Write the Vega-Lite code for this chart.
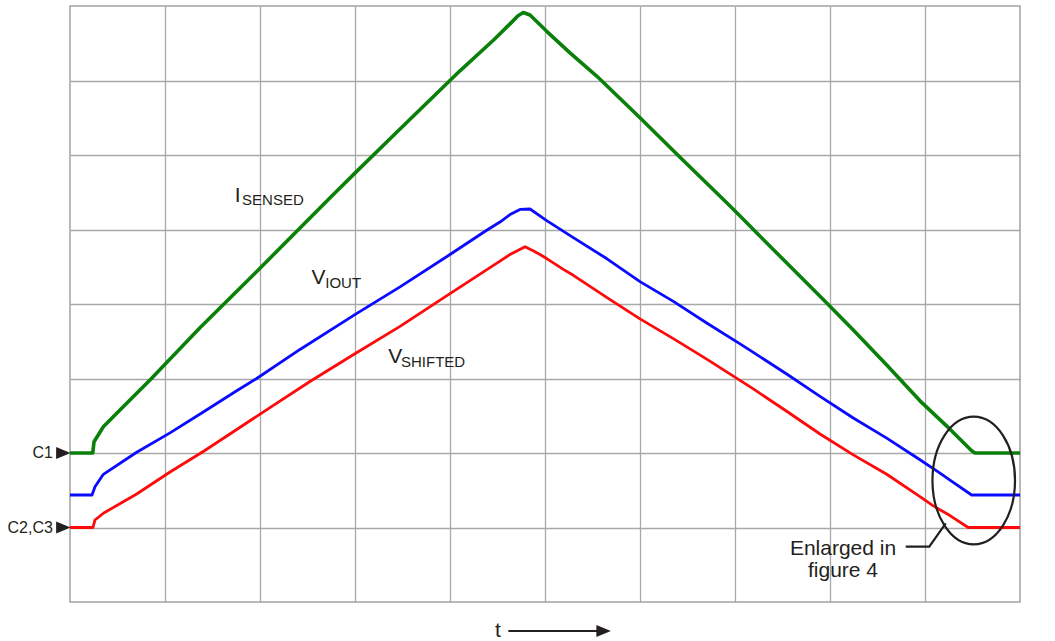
{
  "$schema": "https://vega.github.io/schema/vega-lite/v6.json",
  "width": 950,
  "height": 596,
  "autosize": {"type": "none"},
  "padding": {"left": 70, "top": 6, "right": 35, "bottom": 39},
  "background": "white",
  "config": {
    "view": {"stroke": "#a3a3a3", "strokeWidth": 1.5},
    "font": "Liberation Sans",
    "axis": {"gridColor": "#a8a8a8", "gridWidth": 1.3, "gridOpacity": 1}
  },
  "datasets": {
    "traces": [
      {"s": "ISENSED", "t": 0, "v": 2.0}, {"s": "ISENSED", "t": 0.239, "v": 2.0}, {"s": "ISENSED", "t": 0.253, "v": 2.152},
      {"s": "ISENSED", "t": 0.351, "v": 2.353}, {"s": "ISENSED", "t": 0.526, "v": 2.577}, {"s": "ISENSED", "t": 0.702, "v": 2.801},
      {"s": "ISENSED", "t": 0.842, "v": 2.98}, {"s": "ISENSED", "t": 1.368, "v": 3.68}, {"s": "ISENSED", "t": 2.0, "v": 4.48},
      {"s": "ISENSED", "t": 2.421, "v": 5.02}, {"s": "ISENSED", "t": 2.772, "v": 5.47}, {"s": "ISENSED", "t": 3.018, "v": 5.78},
      {"s": "ISENSED", "t": 3.474, "v": 6.35}, {"s": "ISENSED", "t": 4.105, "v": 7.13}, {"s": "ISENSED", "t": 4.456, "v": 7.54},
      {"s": "ISENSED", "t": 4.632, "v": 7.76}, {"s": "ISENSED", "t": 4.716, "v": 7.87}, {"s": "ISENSED", "t": 4.772, "v": 7.913},
      {"s": "ISENSED", "t": 4.842, "v": 7.879}, {"s": "ISENSED", "t": 5.018, "v": 7.66}, {"s": "ISENSED", "t": 5.263, "v": 7.37},
      {"s": "ISENSED", "t": 5.544, "v": 7.06}, {"s": "ISENSED", "t": 6.0, "v": 6.5}, {"s": "ISENSED", "t": 6.421, "v": 5.97},
      {"s": "ISENSED", "t": 6.913, "v": 5.36}, {"s": "ISENSED", "t": 7.053, "v": 5.18}, {"s": "ISENSED", "t": 7.474, "v": 4.64},
      {"s": "ISENSED", "t": 7.929, "v": 4.06}, {"s": "ISENSED", "t": 8.245, "v": 3.65}, {"s": "ISENSED", "t": 8.597, "v": 3.18},
      {"s": "ISENSED", "t": 8.947, "v": 2.7}, {"s": "ISENSED", "t": 9.263, "v": 2.32}, {"s": "ISENSED", "t": 9.491, "v": 2.03},
      {"s": "ISENSED", "t": 9.526, "v": 2.0}, {"s": "ISENSED", "t": 10, "v": 2.0},

      {"s": "VIOUT", "t": 0, "v": 1.436}, {"s": "VIOUT", "t": 0.232, "v": 1.436}, {"s": "VIOUT", "t": 0.263, "v": 1.548},
      {"s": "VIOUT", "t": 0.351, "v": 1.714}, {"s": "VIOUT", "t": 0.702, "v": 2.01}, {"s": "VIOUT", "t": 1.053, "v": 2.27},
      {"s": "VIOUT", "t": 1.403, "v": 2.55}, {"s": "VIOUT", "t": 1.755, "v": 2.835}, {"s": "VIOUT", "t": 1.965, "v": 3.0},
      {"s": "VIOUT", "t": 2.421, "v": 3.39}, {"s": "VIOUT", "t": 3.003, "v": 3.86}, {"s": "VIOUT", "t": 3.474, "v": 4.23},
      {"s": "VIOUT", "t": 4.0, "v": 4.665}, {"s": "VIOUT", "t": 4.386, "v": 4.99}, {"s": "VIOUT", "t": 4.526, "v": 5.1},
      {"s": "VIOUT", "t": 4.632, "v": 5.2}, {"s": "VIOUT", "t": 4.737, "v": 5.27}, {"s": "VIOUT", "t": 4.842, "v": 5.275},
      {"s": "VIOUT", "t": 5.018, "v": 5.12}, {"s": "VIOUT", "t": 5.298, "v": 4.89}, {"s": "VIOUT", "t": 5.649, "v": 4.61},
      {"s": "VIOUT", "t": 6.0, "v": 4.3}, {"s": "VIOUT", "t": 6.351, "v": 4.035}, {"s": "VIOUT", "t": 6.702, "v": 3.745},
      {"s": "VIOUT", "t": 7.053, "v": 3.465}, {"s": "VIOUT", "t": 7.193, "v": 3.35}, {"s": "VIOUT", "t": 7.544, "v": 3.06},
      {"s": "VIOUT", "t": 7.895, "v": 2.76}, {"s": "VIOUT", "t": 8.245, "v": 2.47}, {"s": "VIOUT", "t": 8.597, "v": 2.2},
      {"s": "VIOUT", "t": 8.947, "v": 1.91}, {"s": "VIOUT", "t": 9.158, "v": 1.73}, {"s": "VIOUT", "t": 9.263, "v": 1.635},
      {"s": "VIOUT", "t": 9.491, "v": 1.436}, {"s": "VIOUT", "t": 10, "v": 1.436},

      {"s": "VSHIFTED", "t": 0, "v": 1.0}, {"s": "VSHIFTED", "t": 0.242, "v": 1.0}, {"s": "VSHIFTED", "t": 0.263, "v": 1.101},
      {"s": "VSHIFTED", "t": 0.351, "v": 1.191}, {"s": "VSHIFTED", "t": 0.702, "v": 1.45}, {"s": "VSHIFTED", "t": 1.053, "v": 1.745},
      {"s": "VSHIFTED", "t": 1.403, "v": 2.02}, {"s": "VSHIFTED", "t": 1.755, "v": 2.315}, {"s": "VSHIFTED", "t": 2.105, "v": 2.61},
      {"s": "VSHIFTED", "t": 2.526, "v": 2.96}, {"s": "VSHIFTED", "t": 3.003, "v": 3.335}, {"s": "VSHIFTED", "t": 3.474, "v": 3.7},
      {"s": "VSHIFTED", "t": 4.0, "v": 4.14}, {"s": "VSHIFTED", "t": 4.368, "v": 4.445}, {"s": "VSHIFTED", "t": 4.526, "v": 4.575},
      {"s": "VSHIFTED", "t": 4.632, "v": 4.665}, {"s": "VSHIFTED", "t": 4.79, "v": 4.769}, {"s": "VSHIFTED", "t": 4.88, "v": 4.71},
      {"s": "VSHIFTED", "t": 4.947, "v": 4.665}, {"s": "VSHIFTED", "t": 5.018, "v": 4.61}, {"s": "VSHIFTED", "t": 5.193, "v": 4.465},
      {"s": "VSHIFTED", "t": 5.298, "v": 4.385}, {"s": "VSHIFTED", "t": 5.649, "v": 4.09}, {"s": "VSHIFTED", "t": 6.0, "v": 3.8},
      {"s": "VSHIFTED", "t": 6.351, "v": 3.535}, {"s": "VSHIFTED", "t": 6.702, "v": 3.26}, {"s": "VSHIFTED", "t": 7.053, "v": 2.975},
      {"s": "VSHIFTED", "t": 7.193, "v": 2.86}, {"s": "VSHIFTED", "t": 7.544, "v": 2.56}, {"s": "VSHIFTED", "t": 7.895, "v": 2.255},
      {"s": "VSHIFTED", "t": 8.245, "v": 1.975}, {"s": "VSHIFTED", "t": 8.597, "v": 1.715}, {"s": "VSHIFTED", "t": 8.947, "v": 1.415},
      {"s": "VSHIFTED", "t": 9.087, "v": 1.29}, {"s": "VSHIFTED", "t": 9.263, "v": 1.16}, {"s": "VSHIFTED", "t": 9.455, "v": 1.0},
      {"s": "VSHIFTED", "t": 10, "v": 1.0}
    ]
  },
  "encoding": {
    "x": {"field": "t", "type": "quantitative", "scale": {"domain": [0, 10], "nice": false, "zero": false},
      "axis": {"values": [1, 2, 3, 4, 5, 6, 7, 8, 9], "grid": true, "labels": false, "ticks": false, "domain": false, "title": null}},
    "y": {"field": "v", "type": "quantitative", "scale": {"domain": [0, 8], "nice": false, "zero": false},
      "axis": {"values": [1, 2, 3, 4, 5, 6, 7], "grid": true, "labels": false, "ticks": false, "domain": false, "title": null}}
  },
  "layer": [
    {
      "data": {"name": "traces"},
      "transform": [{"filter": "datum.s === 'ISENSED'"}],
      "mark": {"type": "line", "color": "#0a800a", "strokeWidth": 3.6, "strokeJoin": "round"}
    },
    {
      "data": {"name": "traces"},
      "transform": [{"filter": "datum.s === 'VIOUT'"}],
      "mark": {"type": "line", "color": "#0a0aff", "strokeWidth": 2.8, "strokeJoin": "round"}
    },
    {
      "data": {"name": "traces"},
      "transform": [{"filter": "datum.s === 'VSHIFTED'"}],
      "mark": {"type": "line", "color": "#ff0a0a", "strokeWidth": 2.8, "strokeJoin": "round"}
    },
    {
      "data": {"values": [{"label": "I", "t": 1.734, "v": 5.373}, {"label": "V", "t": 2.542, "v": 4.264}, {"label": "V", "t": 3.351, "v": 3.204}]},
      "mark": {"type": "text", "align": "left", "baseline": "alphabetic", "fontSize": 21, "color": "#231f20"},
      "encoding": {"text": {"field": "label"}}
    },
    {
      "data": {"values": [{"label": "SENSED", "t": 1.811, "v": 5.329}, {"label": "IOUT", "t": 2.687, "v": 4.211}, {"label": "SHIFTED", "t": 3.484, "v": 3.15}]},
      "mark": {"type": "text", "align": "left", "baseline": "alphabetic", "fontSize": 15, "color": "#231f20"},
      "encoding": {"text": {"field": "label"}}
    },
    {
      "data": {"values": [{"label": "C1", "t": -0.18, "v": 2.0}, {"label": "C2,C3", "t": -0.18, "v": 1.0}]},
      "mark": {"type": "text", "align": "right", "baseline": "middle", "fontSize": 16, "color": "#231f20"},
      "encoding": {"text": {"field": "label"}}
    },
    {
      "data": {"values": [{"t": -0.07, "v": 2.0}, {"t": -0.07, "v": 1.0}, {"t": 5.617, "v": -0.389}]},
      "mark": {"type": "point", "shape": "M-1,-0.82L1,0L-1,0.82Z", "size": 210, "filled": true, "color": "#231f20", "opacity": 1}
    },
    {
      "data": {"values": [{"t": 9.513, "v": 1.631}]},
      "mark": {"type": "point", "shape": "M0.647,0C0.647,0.552,0.357,1,0,1C-0.357,1,-0.647,0.552,-0.647,0C-0.647,-0.552,-0.357,-1,0,-1C0.357,-1,0.647,-0.552,0.647,0Z", "size": 16282, "filled": false, "stroke": "#231f20", "strokeWidth": 2.2, "opacity": 1}
    },
    {
      "data": {"values": [{"t": 8.797, "v": 0.742}, {"t": 9.045, "v": 0.742}, {"t": 9.218, "v": 1.056}]},
      "mark": {"type": "line", "color": "#231f20", "strokeWidth": 2.2}
    },
    {
      "data": {"values": [{"t": 4.614, "v": -0.389}, {"t": 5.58, "v": -0.389}]},
      "mark": {"type": "line", "color": "#231f20", "strokeWidth": 2}
    },
    {
      "data": {"values": [{"label": "Enlarged in", "t": 8.137, "v": 0.631}, {"label": "figure 4", "t": 8.137, "v": 0.34}, {"label": "t", "t": 4.505, "v": -0.466}]},
      "mark": {"type": "text", "align": "center", "baseline": "alphabetic", "fontSize": 21, "color": "#231f20"},
      "encoding": {"text": {"field": "label"}}
    }
  ]
}
